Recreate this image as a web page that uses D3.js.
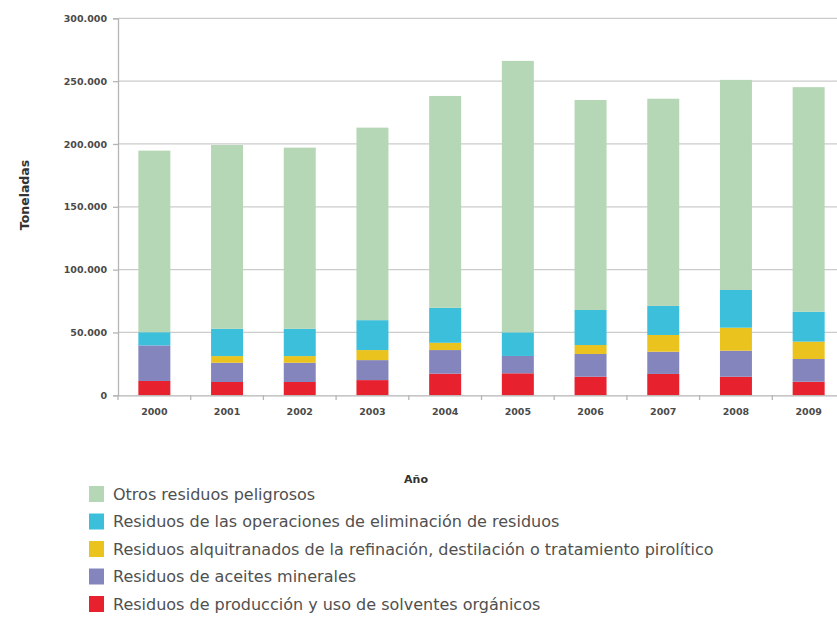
<!DOCTYPE html>
<html>
<head>
<meta charset="utf-8">
<script src="https://cdn.jsdelivr.net/npm/d3@7"></script>
<style>
html,body{margin:0;padding:0;background:#fff;overflow:hidden;}
svg{display:block;}
</style>
</head>
<body>
<svg id="chart" width="837" height="623"></svg>
<script>
// ---- data (toneladas) ----
const years = ["2000","2001","2002","2003","2004","2005","2006","2007","2008","2009"];
const seriesNames = [
  "Residuos de producción y uso de solventes orgánicos",
  "Residuos de aceites minerales",
  "Residuos alquitranados de la refinación, destilación o tratamiento pirolítico",
  "Residuos de las operaciones de eliminación de residuos",
  "Otros residuos peligrosos"
];
const solventes    = [11400, 10600, 10600, 12100, 17200, 17500, 14800, 17000, 14800, 10800];
const aceites      = [28300, 15300, 15300, 15900, 18800, 13800, 18100, 17700, 20700, 18100];
const alquitranados= [0, 5300, 5300, 8000, 5800, 0, 7100, 13300, 18300, 13800];
const eliminacion  = [10500, 21700, 21700, 23800, 27800, 18800, 27900, 23100, 30000, 23800];
const otros        = [144500, 146300, 144200, 153200, 168600, 216000, 167100, 164900, 167200, 178700];
const yTicks = [0, 50000, 100000, 150000, 200000, 250000, 300000];
const seriesColors = ["#e8212e", "#8585bd", "#ebc31e", "#3bbfdb", "#b5d7b5"];

const seriesValues = [solventes, aceites, alquitranados, eliminacion, otros];
const table = years.map((y, i) => {
  const row = {year: y};
  seriesNames.forEach((s, k) => row[s] = seriesValues[k][i]);
  return row;
});

const svg = d3.select("#chart");
const x = d3.scaleBand().domain(years).range([118, 845]).paddingInner(0.56).paddingOuter(0.28);
const y = d3.scaleLinear().domain([0, 300000]).range([395.3, 18.3]);
const fmt = v => d3.format(",")(v).replace(/,/g, ".");

// gridlines
svg.append("g").selectAll("line").data(yTicks.filter(d => d > 0)).join("line")
  .attr("x1", 118).attr("x2", 845)
  .attr("y1", d => y(d)).attr("y2", d => y(d))
  .attr("stroke", "#cccccc").attr("stroke-width", 1.3);

// stacked bars
const stack = d3.stack().keys(seriesNames)(table);
svg.append("g").selectAll("g").data(stack).join("g")
  .attr("fill", (d, i) => seriesColors[i])
  .selectAll("rect").data(d => d).join("rect")
  .attr("x", d => x(d.data.year))
  .attr("width", x.bandwidth())
  .attr("y", d => y(d[1]))
  .attr("height", d => y(d[0]) - y(d[1]));

// y axis
const yAxis = svg.append("g").attr("transform", "translate(118,0)")
  .call(d3.axisLeft(y).tickValues(yTicks).tickFormat(fmt).tickSize(5).tickPadding(6));
yAxis.select(".domain").attr("stroke", "#b5b5b5").attr("stroke-width", 1.3);
yAxis.selectAll(".tick line").attr("stroke", "#b5b5b5").attr("stroke-width", 1.3);
yAxis.selectAll("text").attr("font-family", "DejaVu Sans").attr("font-size", 9.5)
  .attr("font-weight", "bold").attr("fill", "#4a4a4a");

// x axis
const xAxis = svg.append("g").attr("transform", "translate(0,395.3)")
  .call(d3.axisBottom(x).tickSize(0).tickPadding(13));
xAxis.select(".domain").attr("stroke", "#b5b5b5").attr("stroke-width", 1.3);
xAxis.selectAll("text").attr("font-family", "DejaVu Sans").attr("font-size", 9.5)
  .attr("font-weight", "bold").attr("fill", "#4a4a4a");
// tick marks at band boundaries
const bounds = years.map(d => x(d) - x.step() * x.paddingInner() / 2);
svg.append("g").selectAll("line").data(bounds).join("line")
  .attr("x1", d => d).attr("x2", d => d)
  .attr("y1", 395.3).attr("y2", 400)
  .attr("stroke", "#b5b5b5").attr("stroke-width", 1.3);

// axis titles
svg.append("text").attr("transform", "translate(29,195) rotate(-90)")
  .attr("text-anchor", "middle").attr("font-family", "DejaVu Sans")
  .attr("font-size", 12.5).attr("font-weight", "bold").attr("fill", "#333")
  .text("Toneladas");
svg.append("text").attr("x", 416).attr("y", 483)
  .attr("text-anchor", "middle").attr("font-family", "DejaVu Sans")
  .attr("font-size", 11).attr("font-weight", "bold").attr("fill", "#333")
  .text("Año");

// legend (top to bottom: reversed stack order)
const legendOrder = seriesNames.map((s, i) => ({name: s, color: seriesColors[i]})).reverse();
const lg = svg.append("g").selectAll("g").data(legendOrder).join("g")
  .attr("transform", (d, i) => `translate(89,${486 + i * 27.5})`);
lg.append("rect").attr("width", 15).attr("height", 16).attr("fill", d => d.color);
lg.append("text").attr("x", 24).attr("y", 13.5)
  .attr("font-family", "DejaVu Sans").attr("font-size", 16).attr("fill", "#505050")
  .text(d => d.name);
</script>
</body>
</html>
